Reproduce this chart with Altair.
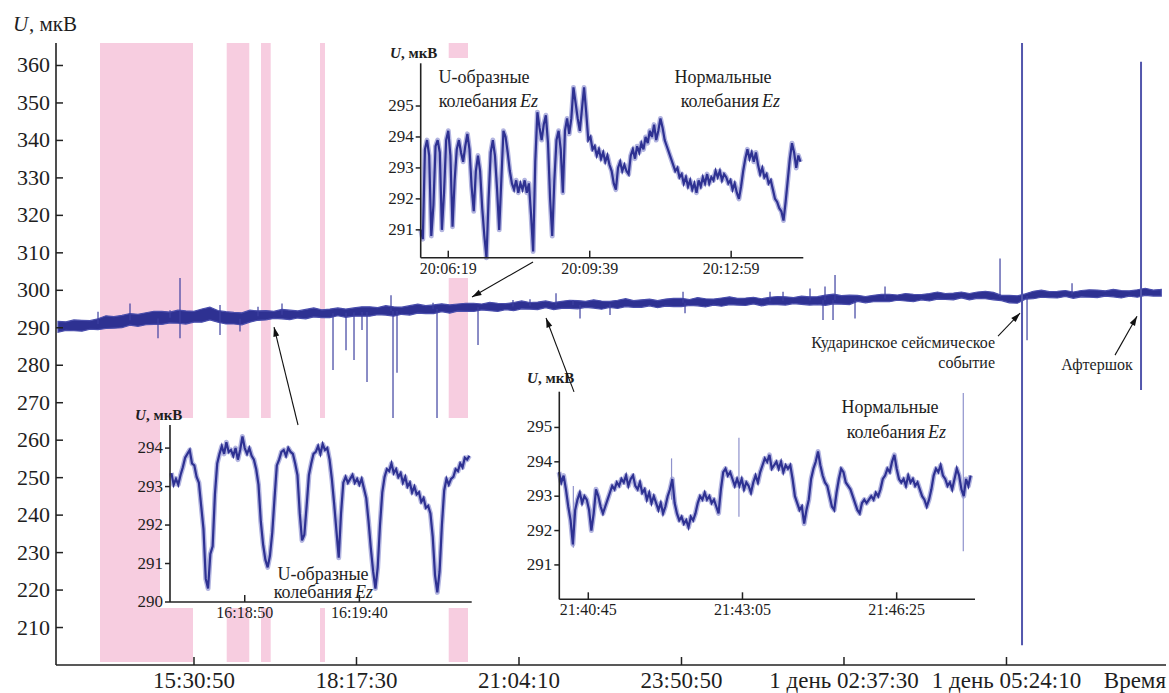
import math
import altair as alt
import pandas as pd

# ---------------- layout / style constants ----------------
W, H = 1110, 622
SERIF = "Liberation Serif, Times New Roman, Times, DejaVu Serif, serif"
TXT = "#1e1e1e"
AX = "#222222"
NAVY = "#2e3192"
HALO = "#b3b5e0"
PINK = "#f7cde0"
EVENT = "#5357ad"

# ---------------- main record (seconds from 00:00 of day 0, U in mkV) ----------------
X_MIN, X_MAX = 47358, 115666
Y_MIN, Y_MAX = 200, 366

main_xtick_vals = [55850, 65850, 75850, 85850, 95850, 105850]
main_xtick_labels = ["15:30:50", "18:17:30", "21:04:10", "23:50:50",
                     "1 день 02:37:30", "1 день 05:24:10"]
main_ytick_vals = [210, 220, 230, 240, 250, 260, 270, 280, 290, 300, 310, 320, 330, 340, 350, 360]

pink_start = [50066, 57863, 59973, 63604, 71524]
pink_end = [55789, 59253, 60570, 63912, 72712]

band_t0, band_step = 47480, 492
band_hi = [
    291.7, 291.6, 292.1, 292.0, 291.9, 292.4, 293.2, 293.0, 293.3, 293.8,
    293.6, 294.0, 294.4, 294.4, 294.2, 294.7, 294.5, 294.4, 295.0, 295.5,
    294.6, 294.3, 294.1, 294.0, 294.7, 294.5, 294.6, 294.4, 294.9, 294.7,
    294.5, 294.9, 295.3, 294.8, 295.0, 295.3, 295.0, 295.3, 295.6, 295.6,
    295.4, 295.9, 295.6, 295.5, 295.9, 296.3, 295.9, 296.1, 296.4, 296.1,
    296.35, 296.55, 296.55, 296.35, 296.75, 296.55, 296.45, 296.75, 297.15, 296.75,
    296.85, 297.15, 296.75, 297.05, 297.35, 297.25, 297.05, 297.45, 297.15, 297.05,
    297.35, 297.75, 297.25, 297.45, 297.65, 297.25, 297.65, 297.85, 297.85, 297.55,
    298.05, 297.75, 297.65, 297.95, 298.25, 297.85, 297.95, 298.15, 297.75, 298.15,
    298.35, 298.25, 298.05, 298.45, 298.25, 298.3, 298.7, 299.0, 298.6, 298.7,
    298.65, 298.35, 298.65, 298.95, 298.95, 298.75, 299.15, 298.95, 298.85, 299.15,
    299.55, 299.15, 299.25, 299.55, 299.15, 299.55, 299.75, 299.45, 298.65, 298.65,
    298.55, 299.05, 299.75, 300.05, 299.65, 299.75, 299.95, 299.55, 299.95, 300.15,
    300.05, 299.85, 300.25, 299.95, 299.85, 300.15, 300.55, 300.05, 300.25]
band_lo = [
    288.8, 289.3, 289.2, 289.1, 289.6, 289.5, 289.8, 289.9, 290.0, 290.7,
    290.4, 290.8, 290.9, 290.9, 291.3, 291.2, 291.0, 291.5, 291.5, 292.1,
    291.5, 291.0, 291.0, 290.8, 291.5, 292.0, 292.1, 292.5, 292.4, 292.2,
    292.6, 292.4, 292.9, 292.7, 292.7, 293.2, 292.8, 293.1, 293.1, 293.1,
    293.5, 293.4, 293.1, 293.6, 293.4, 293.9, 293.8, 293.8, 294.3, 293.9,
    294.45, 294.35, 294.35, 294.75, 294.55, 294.35, 294.85, 294.55, 295.05, 294.95,
    294.85, 295.35, 294.85, 295.15, 295.15, 295.05, 295.45, 295.25, 294.95, 295.45,
    295.15, 295.65, 295.45, 295.45, 295.85, 295.35, 295.75, 295.65, 295.65, 295.95,
    295.85, 295.55, 296.05, 295.75, 296.15, 296.05, 295.95, 296.35, 295.85, 296.25,
    296.15, 296.05, 296.45, 296.25, 296.05, 296.2, 296.0, 296.4, 296.3, 296.2,
    297.05, 296.65, 296.95, 296.95, 296.95, 297.35, 297.15, 296.95, 297.45, 297.15,
    297.65, 297.55, 297.45, 297.95, 297.45, 297.85, 297.75, 297.45, 297.25, 296.65,
    296.55, 297.65, 297.75, 298.15, 298.05, 297.95, 298.35, 297.85, 298.25, 298.15,
    298.05, 298.45, 298.25, 297.95, 298.45, 298.15, 298.65, 298.45, 298.45]

spike_t = [49943, 51912, 54374, 54989, 57451, 59789, 61266, 67974, 70559, 75481, 76527,
           78128, 79174, 85944, 91298, 93759, 92098, 94682, 95298, 98375, 105452, 109883,
           53635, 58681, 64405, 65205, 65697, 66189, 66497, 68097, 68343, 70805, 73328,
           79605, 81451, 86067, 94559, 95175, 96528, 107114]
spike_from = [291.0, 292.0, 292.7, 287.2, 288.1, 293.1, 293.5, 294.5, 295.0, 295.7, 295.9,
              296.0, 296.1, 296.7, 297.1, 297.3, 297.2, 297.4, 297.4, 297.8, 298.3, 298.9,
              292.5, 292.4, 293.9, 294.0, 294.1, 294.2, 294.2, 294.5, 294.5, 295.0, 295.5,
              296.1, 296.3, 296.7, 297.4, 297.4, 297.5, 298.5]
spike_to = [294.3, 296.5, 294.7, 303.3, 296.1, 295.6, 296.5, 298.7, 296.7, 297.4, 297.6,
            299.2, 297.4, 299.6, 299.6, 300.5, 299.6, 301.0, 304.1, 301.0, 308.5, 301.9,
            287.2, 289.0, 278.7, 284.0, 281.4, 289.4, 275.5, 265.4, 278.0, 265.4, 285.4,
            292.5, 293.4, 293.9, 292.1, 292.1, 292.5, 286.7]

event_t = [106806, 114129]      # Кударинское событие, афтершок
event_lo = [205.3, 273.4]
event_hi = [366.0, 361.0]

arrow_t0 = [62251, 76713, 79236, 105329, 112529]
arrow_u0 = [264.05, 307.55, 272.9, 287.8, 282.7]
arrow_t1 = [60774, 72959, 77513, 106683, 113883]
arrow_u1 = [290.2, 298.2, 292.6, 293.9, 293.1]

# ---------------- inset 1 ----------------
ins1_t0, ins1_step = 58698, 1
ins1_u = [
    293.35, 293.05, 293.2, 293.05, 293.3, 293.5, 293.75, 293.85, 293.95, 293.6,
    293.55, 293.25, 293.1, 292.5, 291.9, 290.6, 290.35, 291.25, 291.45, 292.8,
    293.6, 293.85, 294.05, 293.85, 294.15, 293.9, 293.95, 293.8, 294.0, 293.7,
    293.95, 294.3, 294.0, 293.85, 294.0, 293.8, 293.7, 293.45, 293.05, 292.1,
    291.5, 291.1, 290.9, 291.2, 291.8, 292.7, 293.55, 293.7, 293.9, 293.95,
    293.8, 294.0, 293.9, 293.85, 293.6, 293.3, 292.3, 291.6, 291.75, 292.5,
    293.3, 293.6, 293.85, 293.9, 294.05, 293.85, 294.1, 293.95, 294.0, 293.7,
    293.2, 292.55, 291.85, 291.15, 292.3, 293.1, 293.25, 293.1, 293.2, 293.3,
    293.1, 293.2, 293.05, 293.2, 292.95, 292.7, 292.1, 291.4, 290.8, 290.35,
    290.9, 292.0, 292.85, 293.25, 293.45, 293.4, 293.6, 293.35, 293.45, 293.25,
    293.35, 293.1, 293.25, 293.0, 293.1, 292.85, 293.0, 292.8, 292.85, 292.6,
    292.7, 292.45, 292.5, 292.3, 291.7, 290.7, 290.25, 290.8, 292.0, 292.9,
    293.2, 293.05, 293.2, 293.25, 293.45, 293.4, 293.6, 293.5, 293.75, 293.7,
    293.8]
ins1_xticks = [58730, 58780]
ins1_xlabels = ["16:18:50", "16:19:40"]
ins1_yticks = [290, 291, 292, 293, 294]

# ---------------- inset 2 ----------------
ins2_t0, ins2_step = 72340, 3
ins2_u = [
    291.0, 290.7, 293.6, 293.9, 293.4, 290.8, 291.8, 293.7, 293.9, 293.5,
    291.0, 292.2, 293.9, 294.2, 293.4, 291.1, 292.6, 293.6, 293.9, 293.5,
    293.2, 293.7, 294.1, 293.6, 292.4, 291.6, 292.9, 293.4, 292.9, 291.7,
    290.8, 290.1, 292.0, 293.5, 293.9, 293.4, 292.3, 291.0, 292.6, 294.2,
    294.0, 293.5, 292.9, 292.5, 292.3, 292.6, 292.2, 292.5, 292.3, 292.6,
    292.2, 292.5, 291.5, 290.3, 293.2, 294.8, 294.3, 293.9, 294.4, 294.7,
    293.8, 292.0, 290.8, 292.6, 293.9, 294.2, 293.6, 292.2, 294.2, 294.6,
    294.1, 294.6, 295.6, 295.1, 294.6, 294.2, 294.9, 295.6, 294.8, 293.9,
    294.0, 293.6, 293.7, 293.4, 293.6, 293.3, 293.5, 293.2, 293.4, 293.1,
    292.9, 292.5, 292.3, 293.0, 293.2, 292.9, 293.1, 292.9, 292.8, 293.4,
    293.6, 293.3, 293.7, 293.5, 293.8, 293.6, 294.0, 293.8, 294.2, 294.0,
    294.4, 293.9, 294.2, 294.6, 294.3, 293.9, 293.7, 293.5, 293.3, 293.1,
    292.9, 293.0, 292.7, 292.8, 292.5, 292.7, 292.4, 292.6, 292.3, 292.5,
    292.2, 292.6, 292.4, 292.7, 292.5, 292.8, 292.5, 292.7, 292.6, 292.9,
    292.7, 292.9, 292.6, 292.8, 292.7, 292.5, 292.6, 292.3, 292.5, 292.2,
    292.0, 292.4, 292.9, 293.3, 293.6, 293.3, 293.5, 293.2, 293.5, 293.1,
    292.8, 293.0, 292.7, 292.8, 292.5, 292.6, 292.3, 292.0, 291.9, 291.7,
    291.6, 291.3, 291.9, 292.6, 293.3, 293.8, 293.5, 293.0, 293.4, 293.2]
ins2_xticks = [72379, 72579, 72779]
ins2_xlabels = ["20:06:19", "20:09:39", "20:12:59"]
ins2_yticks = [291, 292, 293, 294, 295]

# ---------------- inset 3 ----------------
ins3_t0, ins3_step = 78007, 3
ins3_u = [
    293.7, 293.4, 293.6, 293.2, 292.7, 292.3, 291.6, 292.6, 292.9, 293.1,
    292.8, 293.0, 292.9, 292.6, 292.0, 292.5, 293.2, 293.0, 292.7, 292.5,
    292.7, 292.9, 293.1, 293.3, 293.2, 293.4, 293.3, 293.5, 293.4, 293.6,
    293.3, 293.5, 293.6, 293.3, 293.2, 293.4, 293.1, 293.2, 292.9, 293.1,
    292.8, 293.0, 292.8, 292.6, 292.8, 292.5, 292.7, 293.0, 293.2, 293.5,
    292.8, 292.5, 292.3, 292.4, 292.2, 292.3, 292.1, 292.4, 292.3, 292.5,
    292.8, 293.0, 292.9, 293.1, 292.9, 293.0, 292.8, 292.9, 292.7, 292.5,
    293.2, 293.7, 293.8, 293.6, 293.7, 293.5, 293.3, 293.5, 293.3, 293.5,
    293.2, 293.4, 293.3, 293.1, 293.4, 293.6, 293.4, 293.7, 293.9, 294.1,
    294.0, 294.2, 293.8, 293.9, 294.0, 293.8, 294.0, 293.7, 293.9, 293.8,
    293.9, 293.5, 293.0, 292.8, 292.6, 292.7, 292.2, 292.6, 292.9, 293.5,
    293.8, 294.0, 294.3, 293.9, 293.6, 293.4, 293.3, 293.0, 292.7, 292.6,
    293.1, 293.5, 293.8, 293.7, 293.4, 293.3, 293.2, 293.0, 292.8, 292.6,
    292.5, 292.8, 292.9, 292.8, 292.9, 293.0, 292.9, 293.1, 293.0, 293.2,
    293.5, 293.6, 293.8, 293.7, 294.0, 294.2, 293.8, 293.5, 293.4, 293.5,
    293.3, 293.6, 293.4, 293.5, 293.3, 293.4, 293.2, 293.0, 292.9, 292.7,
    292.9, 293.2, 293.6, 293.8, 293.7, 293.9, 293.6, 293.5, 293.3, 293.4,
    293.2, 293.5, 293.8, 293.6, 293.2, 293.0, 293.5, 293.3, 293.6]
ins3_spike_t = [78025.6, 78153, 78240.4, 78531.4]
ins3_spike_lo = [291.5, 292.9, 292.4, 291.4]
ins3_spike_hi = [293.3, 294.1, 294.7, 296.0]
ins3_xticks = [78045, 78245, 78445]
ins3_xlabels = ["21:40:45", "21:43:05", "21:46:25"]
ins3_yticks = [291, 292, 293, 294, 295]


# ---------------- helpers ----------------
def one():
    return pd.DataFrame({"k": [0]})


def txt(s, x, y, size, align="left", style="normal", weight="normal"):
    return alt.Chart(pd.DataFrame({"label": [s]})).mark_text(
        align=align, baseline="middle", font=SERIF, fontSize=size,
        fontStyle=style, fontWeight=weight, color=TXT
    ).encode(x=alt.value(x), y=alt.value(y), text="label:N")


def vrule(x, y0, y1, w=1.6):
    return alt.Chart(one()).mark_rule(color=AX, strokeWidth=w).encode(
        x=alt.value(x), y=alt.value(y0), y2=alt.value(y1))


def hrule(x0, x1, y, w=1.6):
    return alt.Chart(one()).mark_rule(color=AX, strokeWidth=w).encode(
        x=alt.value(x0), x2=alt.value(x1), y=alt.value(y))


def series_df(t0, step, vals):
    return pd.DataFrame({"t": [t0 + step * i for i in range(len(vals))], "u": vals})


def tick_df(vals, labels):
    return pd.DataFrame({"v": vals, "label": labels})


# ---------------- main layer ----------------
xs = alt.Scale(domain=[X_MIN, X_MAX], nice=False, zero=False)
ys = alt.Scale(domain=[Y_MIN, Y_MAX], nice=False, zero=False)

band_df = pd.DataFrame({"t": [band_t0 + band_step * i for i in range(len(band_hi))],
                        "hi": band_hi, "lo": band_lo})
pink_df = pd.DataFrame({"start": pink_start, "end": pink_end})
spike_df = pd.DataFrame({"t": spike_t, "a": spike_from, "b": spike_to})
event_df = pd.DataFrame({"t": event_t, "a": event_lo, "b": event_hi})
mx_df = tick_df(main_xtick_vals, main_xtick_labels)
my_df = tick_df(main_ytick_vals, [str(v) for v in main_ytick_vals])

pink = alt.Chart(pink_df).mark_rect(color=PINK).encode(
    x=alt.X("start:Q", scale=xs, axis=None), x2="end:Q",
    y=alt.value(0), y2=alt.value(H - 3))
signal = alt.Chart(band_df).mark_area(
    color=NAVY, interpolate="linear", stroke="#4a4eac", strokeWidth=1.2).encode(
    x=alt.X("t:Q", scale=xs, axis=None),
    y=alt.Y("hi:Q", scale=ys, axis=None), y2="lo:Q")
spikes = alt.Chart(spike_df).mark_rule(color="#3d40a0", strokeWidth=1.2).encode(
    x=alt.X("t:Q", scale=xs, axis=None), y=alt.Y("a:Q", scale=ys, axis=None), y2="b:Q")
events = alt.Chart(event_df).mark_rule(color=EVENT, strokeWidth=2).encode(
    x=alt.X("t:Q", scale=xs, axis=None), y=alt.Y("a:Q", scale=ys, axis=None), y2="b:Q")
ytick_marks = alt.Chart(my_df).mark_rule(color=AX, strokeWidth=1.5).encode(
    y=alt.Y("v:Q", scale=ys, axis=None), x=alt.value(0), x2=alt.value(7))
ytick_labels = alt.Chart(my_df).mark_text(
    align="right", baseline="middle", font=SERIF, fontSize=22, color=TXT).encode(
    y=alt.Y("v:Q", scale=ys, axis=None), x=alt.value(-6), text="label:N")
xtick_marks = alt.Chart(mx_df).mark_rule(color=AX, strokeWidth=1.5).encode(
    x=alt.X("v:Q", scale=xs, axis=None), y=alt.value(H), y2=alt.value(H - 8))
xtick_labels = alt.Chart(mx_df).mark_text(
    align="center", baseline="middle", font=SERIF, fontSize=23, color=TXT).encode(
    x=alt.X("v:Q", scale=xs, axis=None), y=alt.value(H + 16), text="label:N")

main_texts = [
    txt("U", -43, -18, 21, style="italic"),
    txt(", мкВ", -27, -18, 21),
    txt("Время", W, H + 16, 23, align="right"),
    txt("Кударинское сейсмическое", 939, 300, 16, align="right"),
    txt("событие", 939, 320, 16, align="right"),
    txt("Афтершок", 1041, 322, 16, align="center"),
]

main = alt.layer(pink, signal, spikes, events,
                 vrule(0, 0, H), hrule(0, W, H),
                 ytick_marks, ytick_labels, xtick_marks, xtick_labels, *main_texts)


# ---------------- insets ----------------
def inset(df, xdom, xr, ydom, yr, xticks, xlabels, yticks, bg=None, extra=None, texts=()):
    xsc = alt.Scale(domain=xdom, range=xr, nice=False, zero=False)
    ysc = alt.Scale(domain=ydom, range=yr, nice=False, zero=False)
    xt = tick_df(xticks, xlabels)
    yt = tick_df(yticks, [str(v) for v in yticks])
    layers = []
    if bg is not None:
        layers.append(alt.Chart(one()).mark_rect(color="white").encode(
            x=alt.value(bg[0]), x2=alt.value(bg[1]), y=alt.value(bg[2]), y2=alt.value(bg[3])))
    layers.append(alt.Chart(df).mark_line(color=HALO, strokeWidth=5, strokeJoin="round").encode(
        x=alt.X("t:Q", scale=xsc, axis=None), y=alt.Y("u:Q", scale=ysc, axis=None)))
    if extra is not None:
        layers.append(alt.Chart(extra).mark_rule(color="#8f92cc", strokeWidth=1.2).encode(
            x=alt.X("t:Q", scale=xsc, axis=None), y=alt.Y("a:Q", scale=ysc, axis=None), y2="b:Q"))
    layers.append(alt.Chart(df).mark_line(color=NAVY, strokeWidth=2.2).encode(
        x=alt.X("t:Q", scale=xsc, axis=None), y=alt.Y("u:Q", scale=ysc, axis=None)))
    # axes drawn by hand: domain lines, inward x ticks, outward y ticks, labels
    layers.append(vrule(xr[0], yr[1], yr[0]))
    layers.append(hrule(xr[0], xr[1], yr[0]))
    layers.append(alt.Chart(xt).mark_rule(color=AX, strokeWidth=1.5).encode(
        x=alt.X("v:Q", scale=xsc, axis=None), y=alt.value(yr[0]), y2=alt.value(yr[0] - 7)))
    layers.append(alt.Chart(xt).mark_text(
        align="center", baseline="top", font=SERIF, fontSize=16, color=TXT).encode(
        x=alt.X("v:Q", scale=xsc, axis=None), y=alt.value(yr[0] + 3), text="label:N"))
    layers.append(alt.Chart(yt).mark_rule(color=AX, strokeWidth=1.5).encode(
        y=alt.Y("v:Q", scale=ysc, axis=None), x=alt.value(xr[0] - 5), x2=alt.value(xr[0])))
    layers.append(alt.Chart(yt).mark_text(
        align="right", baseline="middle", font=SERIF, fontSize=17, color=TXT).encode(
        y=alt.Y("v:Q", scale=ysc, axis=None), x=alt.value(xr[0] - 7), text="label:N"))
    layers.extend(texts)
    return alt.layer(*layers)


ins1 = inset(series_df(ins1_t0, ins1_step, ins1_u), [58697.4, 58829], [114, 415.7],
             [290, 294.6], [559, 382], ins1_xticks, ins1_xlabels, ins1_yticks,
             bg=(104, 422, 375, 565),
             texts=[txt("U", 79, 372, 15, style="italic", weight="bold"),
                    txt(", мкВ", 90, 372, 15, weight="bold"),
                    txt("U-образные", 267, 532, 18, align="center"),
                    txt("колебания", 296, 550, 18, align="right"),
                    txt("Ez", 299, 550, 18, style="italic")])

ins2 = inset(series_df(ins2_t0, ins2_step, ins2_u), [72340, 72881], [364.7, 747.3],
             [290.1, 296.38], [214.7, 20.3], ins2_xticks, ins2_xlabels, ins2_yticks,
             bg=(339, 752, 15, 235),
             texts=[txt("U", 334, 10, 15, style="italic", weight="bold"),
                    txt(", мкВ", 345, 10, 15, weight="bold"),
                    txt("U-образные", 428, 35, 18, align="center"),
                    txt("колебания", 461, 59, 18, align="right"),
                    txt("Ez", 464, 59, 18, style="italic"),
                    txt("Нормальные", 667, 35, 18, align="center"),
                    txt("колебания", 703, 59, 18, align="right"),
                    txt("Ez", 706, 59, 18, style="italic")])

ins3_extra = pd.DataFrame({"t": ins3_spike_t, "a": ins3_spike_lo, "b": ins3_spike_hi})
ins3 = inset(series_df(ins3_t0, ins3_step, ins3_u), [78007.4, 78546.6], [503.3, 919],
             [290, 296.04], [556.3, 348.7], ins3_xticks, ins3_xlabels, ins3_yticks,
             extra=ins3_extra,
             texts=[txt("U", 471, 335, 15, style="italic", weight="bold"),
                    txt(", мкВ", 482, 335, 15, weight="bold"),
                    txt("Нормальные", 834, 365, 18, align="center"),
                    txt("колебания", 869, 390, 18, align="right"),
                    txt("Ez", 872, 390, 18, style="italic")])

# ---------------- arrows (same domains as main, drawn on top) ----------------
kx = W / (X_MAX - X_MIN)
ky = H / (Y_MAX - Y_MIN)
arrow_df = pd.DataFrame({"t0": arrow_t0, "u0": arrow_u0, "t1": arrow_t1, "u1": arrow_u1})
arrow_df["ang"] = [math.degrees(math.atan2((b - a) * kx, (d - c) * ky)) % 360
                   for a, b, c, d in zip(arrow_t0, arrow_t1, arrow_u0, arrow_u1)]
xs2 = alt.Scale(domain=[X_MIN, X_MAX], nice=False, zero=False)
ys2 = alt.Scale(domain=[Y_MIN, Y_MAX], nice=False, zero=False)
arrow_lines = alt.Chart(arrow_df).mark_rule(color="#111111", strokeWidth=1.1).encode(
    x=alt.X("t0:Q", scale=xs2, axis=None), x2="t1:Q",
    y=alt.Y("u0:Q", scale=ys2, axis=None), y2="u1:Q")
arrow_heads = alt.Chart(arrow_df).mark_point(
    shape="M0,0L-0.6,1.9L0.6,1.9Z", filled=True, color="#111111", opacity=1, size=100
).encode(x=alt.X("t1:Q", scale=xs2, axis=None), y=alt.Y("u1:Q", scale=ys2, axis=None),
         angle=alt.Angle("ang:Q", scale=None))
arrows = alt.layer(arrow_lines, arrow_heads)

chart = alt.layer(main, ins1, ins2, ins3, arrows).resolve_scale(
    x="independent", y="independent"
).properties(
    width=W, height=H,
    padding={"left": 56, "top": 43, "right": 3, "bottom": 28},
    autosize=alt.AutoSizeParams(type="none"),
    background="white",
).configure_view(stroke=None)

chart.save("out.html", embed_options={"renderer": "svg", "actions": False})
